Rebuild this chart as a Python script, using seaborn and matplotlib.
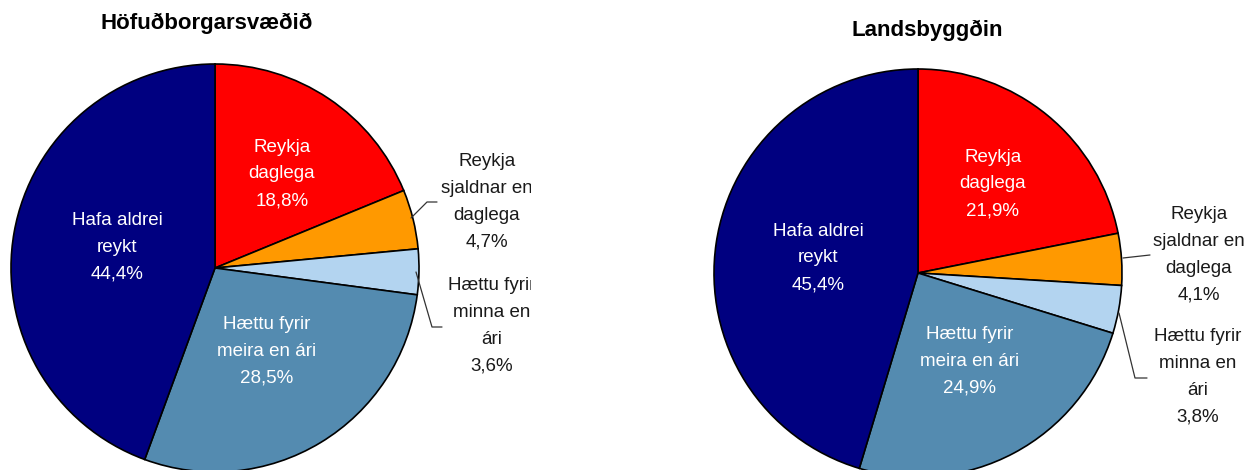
import matplotlib
matplotlib.use("Agg")
import matplotlib.pyplot as plt
import seaborn as sns

sns.set_theme(style="white")
plt.rcParams['font.family'] = ['Liberation Sans Narrow', 'Liberation Sans', 'DejaVu Sans']

# ---- data ----
categories = ["Reykja daglega", "Reykja sjaldnar en daglega", "Hættu fyrir minna en ári",
              "Hættu fyrir meira en ári", "Hafa aldrei reykt"]
label_texts = ["Reykja\ndaglega", "Reykja\nsjaldnar en\ndaglega", "Hættu fyrir\nminna en\nári",
               "Hættu fyrir\nmeira en ári", "Hafa aldrei\nreykt"]
titles = ["Höfuðborgarsvæðið", "Landsbyggðin"]
values_hofud = [18.8, 4.7, 3.6, 28.5, 44.4]
values_lands = [21.9, 4.1, 3.8, 24.9, 45.4]
colors = ["#FF0000", "#FF9900", "#B3D4F0", "#548BB0", "#000080"]

W, H = 1256, 470
fig = plt.figure(figsize=(W / 100, H / 100), dpi=100)
fig.patch.set_facecolor("white")

LABEL_FS = 13.5
LINESP = 1.75

def fmt(v):
    return f"{v:.1f}".replace(".", ",") + "%"

# layout in pixel units
panels = [
    dict(x0=0, x1=531, values=values_hofud, title=titles[0], title_xy=(207, 23),
         center=(215, 268), r=204,
         inside=[(282, 174), None, None, (267, 351), (117, 247)],
         outside={1: (487, 202), 2: (492, 326)},
         leaders={1: [(411, 218), (427, 202), (437, 202)],
                  2: [(416, 272), (432, 327), (442, 327)]}),
    dict(x0=531, x1=1256, values=values_lands, title=titles[1], title_xy=(927, 30),
         center=(918, 273), r=204,
         inside=[(993, 184), None, None, (970, 361), (818, 258)],
         outside={1: (1199, 255), 2: (1198, 377)},
         leaders={1: [(1123, 258), (1150, 255)],
                  2: [(1119, 313), (1135, 378), (1147, 378)]}),
]

for p in panels:
    ax = fig.add_axes([p["x0"] / W, 0, (p["x1"] - p["x0"]) / W, 1])
    ax.pie(p["values"], colors=colors, startangle=90, counterclock=False,
           center=(p["center"][0], H - p["center"][1]), radius=p["r"],
           wedgeprops=dict(edgecolor="black", linewidth=1.2))
    ax.set_xlim(p["x0"], p["x1"])
    ax.set_ylim(0, H)
    ax.set_aspect("auto")
    ax.axis("off")
    ax.text(p["title_xy"][0], H - p["title_xy"][1], p["title"], ha="center", va="center",
            fontsize=16, fontweight="bold", color="black",
            family=['Liberation Sans', 'DejaVu Sans'])
    for i, v in enumerate(p["values"]):
        txt = label_texts[i] + "\n" + fmt(v)
        if p["inside"][i] is not None:
            x, y = p["inside"][i]
            ax.text(x, H - y, txt, ha="center", va="center", fontsize=LABEL_FS,
                    color="white", linespacing=LINESP)
        else:
            x, y = p["outside"][i]
            ax.text(x, H - y, txt, ha="center", va="center", fontsize=LABEL_FS,
                    color="#1a1a1a", linespacing=LINESP, clip_on=True)
    for i, pts in p["leaders"].items():
        xs = [q[0] for q in pts]
        ys = [H - q[1] for q in pts]
        ax.plot(xs, ys, color="#333333", linewidth=0.9)

fig.savefig("out.png", dpi=100, facecolor="white")
